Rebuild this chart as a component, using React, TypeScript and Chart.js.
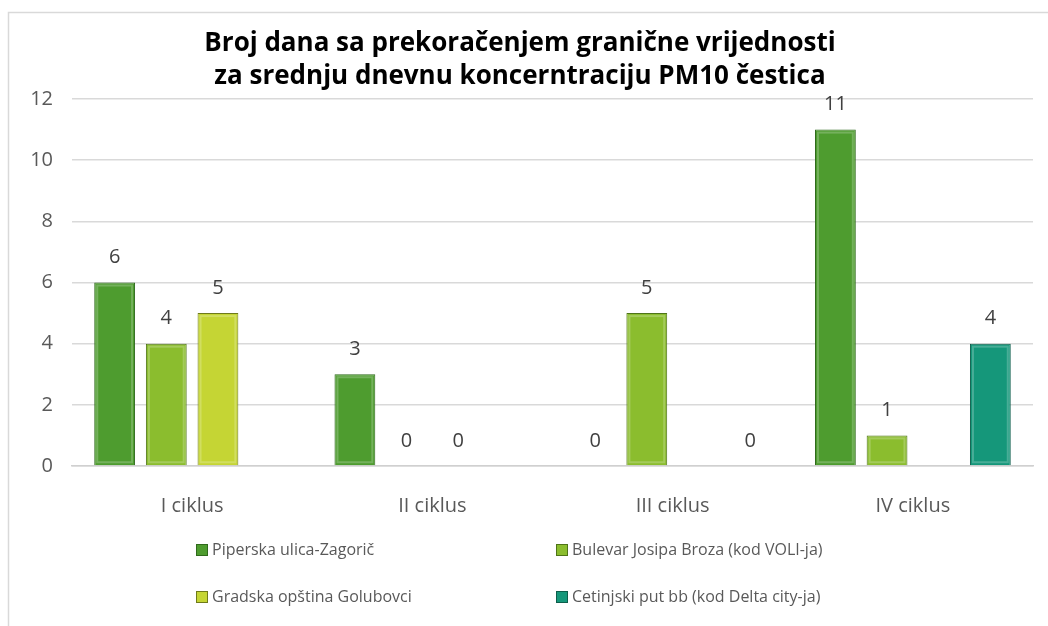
import React, { useEffect, useRef } from "react";
import { Chart, registerables } from "chart.js";

Chart.register(...registerables);

const categories = ["I ciklus", "II ciklus", "III ciklus", "IV ciklus"];
const seriesNames = [
  "Piperska ulica-Zagorič",
  "Bulevar Josipa Broza (kod VOLI-ja)",
  "Gradska opština Golubovci",
  "Cetinjski put bb (kod Delta city-ja)",
];
const piperska: (number | null)[] = [6, 3, 0, 11];
const bulevar: (number | null)[] = [4, 0, 5, 1];
const golubovci: (number | null)[] = [5, 0, null, null];
const cetinjski: (number | null)[] = [null, null, 0, 4];
const titleLines = [
  "Broj dana sa prekoračenjem granične vrijednosti",
  "za srednju dnevnu koncerntraciju PM10 čestica",
];

const fills = ["#4e9c2f", "#8bbd2e", "#c5d534", "#15977a"];
const borders = ["#2f6a1c", "#4f7418", "#6f7a1a", "#0d5e4b"];
const FONT = "'Open Sans', sans-serif";

const decorPlugin = {
  id: "decor",
  beforeDraw(chart: any) {
    const ctx = chart.ctx;
    ctx.save();
    ctx.fillStyle = "#ffffff";
    ctx.fillRect(0, 0, chart.width, chart.height);
    ctx.strokeStyle = "#d9d9d9";
    ctx.lineWidth = 1.5;
    ctx.beginPath();
    ctx.moveTo(8.5, chart.height);
    ctx.lineTo(8.5, 12.5);
    ctx.lineTo(chart.width, 12.5);
    ctx.stroke();
    ctx.restore();
  },
  afterDatasetsDraw(chart: any) {
    const ctx = chart.ctx;
    ctx.save();
    chart.data.datasets.forEach((ds: any, di: number) => {
      const meta = chart.getDatasetMeta(di);
      meta.data.forEach((el: any, i: number) => {
        const v = ds.data[i];
        if (v == null) return;
        if (v > 0) {
          const left = el.x - el.width / 2;
          const h = el.base - el.y;
          ctx.strokeStyle = "rgba(255,255,255,0.22)";
          ctx.lineWidth = 2;
          if (h > 8) ctx.strokeRect(left + 3, el.y + 3, el.width - 6, h - 6);
        }
        ctx.fillStyle = "#404040";
        ctx.font = `20px ${FONT}`;
        ctx.textAlign = "center";
        ctx.textBaseline = "middle";
        ctx.fillText(String(v), el.x, el.y - 25);
      });
    });
    ctx.restore();
  },
  afterDraw(chart: any) {
    const ctx = chart.ctx;
    ctx.save();
    ctx.fillStyle = "#000000";
    ctx.font = `bold 26px ${FONT}`;
    ctx.textAlign = "center";
    ctx.textBaseline = "middle";
    ctx.fillText(titleLines[0], 520, 44);
    ctx.fillText(titleLines[1], 520, 77);

    const pos = [
      [196, 550],
      [556, 550],
      [196, 597],
      [556, 597],
    ];
    ctx.font = `16px ${FONT}`;
    ctx.textAlign = "left";
    chart.data.datasets.forEach((ds: any, di: number) => {
      const [x, y] = pos[di];
      ctx.fillStyle = ds.backgroundColor;
      ctx.fillRect(x, y - 6, 12, 12);
      ctx.strokeStyle = ds.borderColor;
      ctx.lineWidth = 1;
      ctx.strokeRect(x + 0.5, y - 5.5, 11, 11);
      ctx.fillStyle = "#595959";
      ctx.fillText(ds.label, x + 16, y);
    });
    ctx.restore();
  },
};

export default function App() {
  const ref = useRef<HTMLCanvasElement>(null);
  useEffect(() => {
    if (!ref.current) return;
    const all = [piperska, bulevar, golubovci, cetinjski];
    const chart = new Chart(ref.current, {
      type: "bar",
      data: {
        labels: categories,
        datasets: all.map((d, i) => ({
          label: seriesNames[i],
          data: d,
          backgroundColor: fills[i],
          borderColor: borders[i],
          borderWidth: 1,
          categoryPercentage: 0.86,
          barPercentage: 0.79,
        })),
      },
      options: {
        animation: false,
        responsive: false,
        layout: { padding: { top: 99, right: 15, left: 0, bottom: 0 } },
        plugins: {
          legend: { display: false },
          title: { display: false },
          tooltip: { enabled: false },
        },
        scales: {
          x: {
            afterFit: (s: any) => {
              s.height = 160;
            },
            grid: { display: false },
            border: { display: true, color: "#d0d0d0", width: 1.5 },
            ticks: {
              color: "#595959",
              font: { family: FONT, size: 20 },
              padding: 20,
            },
          },
          y: {
            min: 0,
            max: 12,
            afterFit: (s: any) => {
              s.width = 72;
            },
            grid: { color: "#d9d9d9", lineWidth: 1.5, drawTicks: false },
            border: { display: false },
            ticks: {
              stepSize: 2,
              color: "#595959",
              font: { family: FONT, size: 20 },
              padding: 19,
            },
          },
        },
      },
      plugins: [decorPlugin],
    });
    return () => chart.destroy();
  }, []);
  return (
    <div style={{ position: "fixed", left: 0, top: 0, width: 1048, height: 626, overflow: "hidden", background: "#fff" }}>
      <canvas ref={ref} width={1048} height={626} style={{ display: "block" }} />
    </div>
  );
}
